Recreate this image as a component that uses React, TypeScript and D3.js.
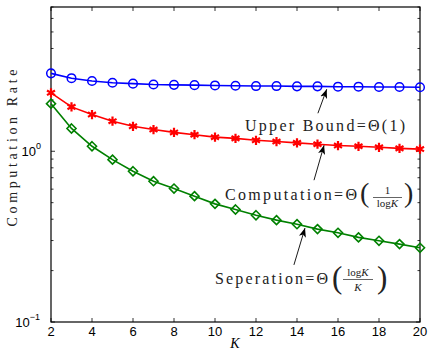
import React from 'react';
import * as d3 from 'd3';

// K values and the three rate curves
const kValues = [2, 3, 4, 5, 6, 7, 8, 9, 10, 11, 12, 13, 14, 15, 16, 17, 18, 19, 20];
const upperBound = [2.86, 2.68, 2.58, 2.52, 2.49, 2.46, 2.45, 2.44, 2.43, 2.42, 2.41, 2.41, 2.4, 2.4, 2.39, 2.39, 2.38, 2.38, 2.37];
const computation = [2.2, 1.82, 1.64, 1.5, 1.4, 1.34, 1.29, 1.25, 1.21, 1.19, 1.16, 1.14, 1.12, 1.1, 1.08, 1.07, 1.055, 1.04, 1.03];
const separation = [1.9, 1.36, 1.07, 0.893, 0.764, 0.668, 0.605, 0.546, 0.492, 0.456, 0.422, 0.395, 0.374, 0.35, 0.333, 0.313, 0.299, 0.286, 0.272];
const xTicks = [2, 4, 6, 8, 10, 12, 14, 16, 18, 20];
const yDomain = [0.1, 7];

// annotation arrows, [k, value] of tail and head
const arrows = [
  { from: [15.02, 1.67], to: [15.45, 2.31] },
  { from: [14.83, 0.677], to: [15.32, 1.084] },
  { from: [13.85, 0.216], to: [14.39, 0.355] },
];

const W = 428;
const H = 351;
const margin = { top: 7, right: 8, bottom: 29, left: 51 };
const serif = 'Liberation Serif';
const sans = 'Liberation Sans';

const App = () => {
  const x = d3.scaleLinear().domain([2, 20]).range([margin.left, W - margin.right]);
  const y = d3.scaleLog().domain(yDomain).range([H - margin.bottom, margin.top]);
  const line = d3.line<number>().x((_, i) => x(kValues[i])).y((d) => y(d));

  const yTicks = y.ticks();
  const isMajor = (v: number) => Math.abs(Math.log10(v) - Math.round(Math.log10(v))) < 1e-9;

  const star = d3.symbol(d3.symbolAsterisk, 60)()!;
  const diamond = d3.symbol(d3.symbolDiamond2, 52)()!;

  const x0 = x.range()[0];
  const x1 = x.range()[1];
  const y0 = y.range()[0];
  const y1 = y.range()[1];

  return (
    <svg width={W} height={H} style={{ position: 'absolute', left: 0, top: 0, background: '#fff' }}>
      <defs>
        <marker id="head" viewBox="0 0 10 10" refX="10" refY="5" markerWidth="9" markerHeight="9" markerUnits="userSpaceOnUse" orient="auto">
          <path d="M0,1 L10,5 L0,9 L2.5,5 Z" fill="#000" />
        </marker>
      </defs>

      {/* axis box */}
      <rect x={x0} y={y1} width={x1 - x0} height={y0 - y1} fill="none" stroke="#000" strokeWidth={1.2} />

      {/* x ticks, inward on bottom and top */}
      {xTicks.map((t) => (
        <g key={'xt' + t}>
          <line x1={x(t)} x2={x(t)} y1={y0} y2={y0 - 4} stroke="#000" strokeWidth={0.8} />
          <line x1={x(t)} x2={x(t)} y1={y1} y2={y1 + 4} stroke="#000" strokeWidth={0.8} />
          <text x={x(t)} y={336} textAnchor="middle" fontFamily={sans} fontSize={13}>{t}</text>
        </g>
      ))}

      {/* y ticks (log), inward on both sides */}
      {yTicks.map((t) => {
        const len = isMajor(t) ? 4 : 2.5;
        return (
          <g key={'yt' + t}>
            <line x1={x0} x2={x0 + len} y1={y(t)} y2={y(t)} stroke="#000" strokeWidth={0.8} />
            <line x1={x1} x2={x1 - len} y1={y(t)} y2={y(t)} stroke="#000" strokeWidth={0.8} />
          </g>
        );
      })}
      {yTicks.filter(isMajor).map((t) => {
        const e = Math.round(Math.log10(t));
        return (
          <text key={'yl' + t} x={e < 0 ? 40 : 41} y={y(t) + 5} textAnchor="end" fontFamily={sans} fontSize={13}>
            10
            <tspan dy={-7} fontSize={9}>{e < 0 ? '\u22121' : String(e)}</tspan>
          </text>
        );
      })}

      {/* axis titles */}
      <text x={235} y={348} textAnchor="middle" fontFamily={serif} fontStyle="italic" fontSize={14}>K</text>
      <text transform="translate(17,148) rotate(-90)" textAnchor="middle" fontFamily={serif} fontSize={14}
        fill="#222" textLength={157} lengthAdjust="spacing">Computation Rate</text>

      {/* series */}
      <path d={line(upperBound)!} fill="none" stroke="#0000ff" strokeWidth={1.6} />
      <path d={line(computation)!} fill="none" stroke="#ff0000" strokeWidth={1.6} />
      <path d={line(separation)!} fill="none" stroke="#008000" strokeWidth={1.6} />

      {upperBound.map((v, i) => (
        <circle key={'b' + i} cx={x(kValues[i])} cy={y(v)} r={4.3} fill="none" stroke="#0000ff" strokeWidth={1.5} />
      ))}
      {computation.map((v, i) => (
        <path key={'r' + i} d={star} transform={`translate(${x(kValues[i])},${y(v)})`} fill="none" stroke="#ff0000" strokeWidth={2.2} />
      ))}
      {separation.map((v, i) => (
        <path key={'g' + i} d={diamond} transform={`translate(${x(kValues[i])},${y(v)})`} fill="none" stroke="#008000" strokeWidth={1.6} />
      ))}

      {/* annotations */}
      {arrows.map((a, i) => (
        <line key={'a' + i} x1={x(a.from[0])} y1={y(a.from[1])} x2={x(a.to[0])} y2={y(a.to[1])}
          stroke="#000" strokeWidth={0.9} markerEnd="url(#head)" />
      ))}

      <g fontFamily={serif} fill="#222">
        <text x={245} y={131} fontSize={16} textLength={160} lengthAdjust="spacing">Upper Bound=Θ(1)</text>

        <text x={225} y={200} fontSize={16} textLength={132} lengthAdjust="spacing">Computation=Θ</text>
        <text x={360} y={202} fontSize={28} fontWeight={300}>(</text>
        <text x={387.5} y={194} fontSize={11} textAnchor="middle">1</text>
        <line x1={373} x2={402} y1={197.5} y2={197.5} stroke="#222" strokeWidth={0.7} />
        <text x={387.5} y={207} fontSize={11} textAnchor="middle">log<tspan fontStyle="italic">K</tspan></text>
        <text x={404} y={202} fontSize={28} fontWeight={300}>)</text>

        <text x={215} y={284} fontSize={16} textLength={113} lengthAdjust="spacing">Seperation=Θ</text>
        <text x={332} y={288} fontSize={31} fontWeight={300}>(</text>
        <text x={358} y={276} fontSize={11} textAnchor="middle">log<tspan fontStyle="italic">K</tspan></text>
        <line x1={343} x2={373} y1={279.5} y2={279.5} stroke="#222" strokeWidth={0.7} />
        <text x={358} y={291} fontSize={11} textAnchor="middle" fontStyle="italic">K</text>
        <text x={377} y={288} fontSize={31} fontWeight={300}>)</text>
      </g>
    </svg>
  );
};

export default App;
